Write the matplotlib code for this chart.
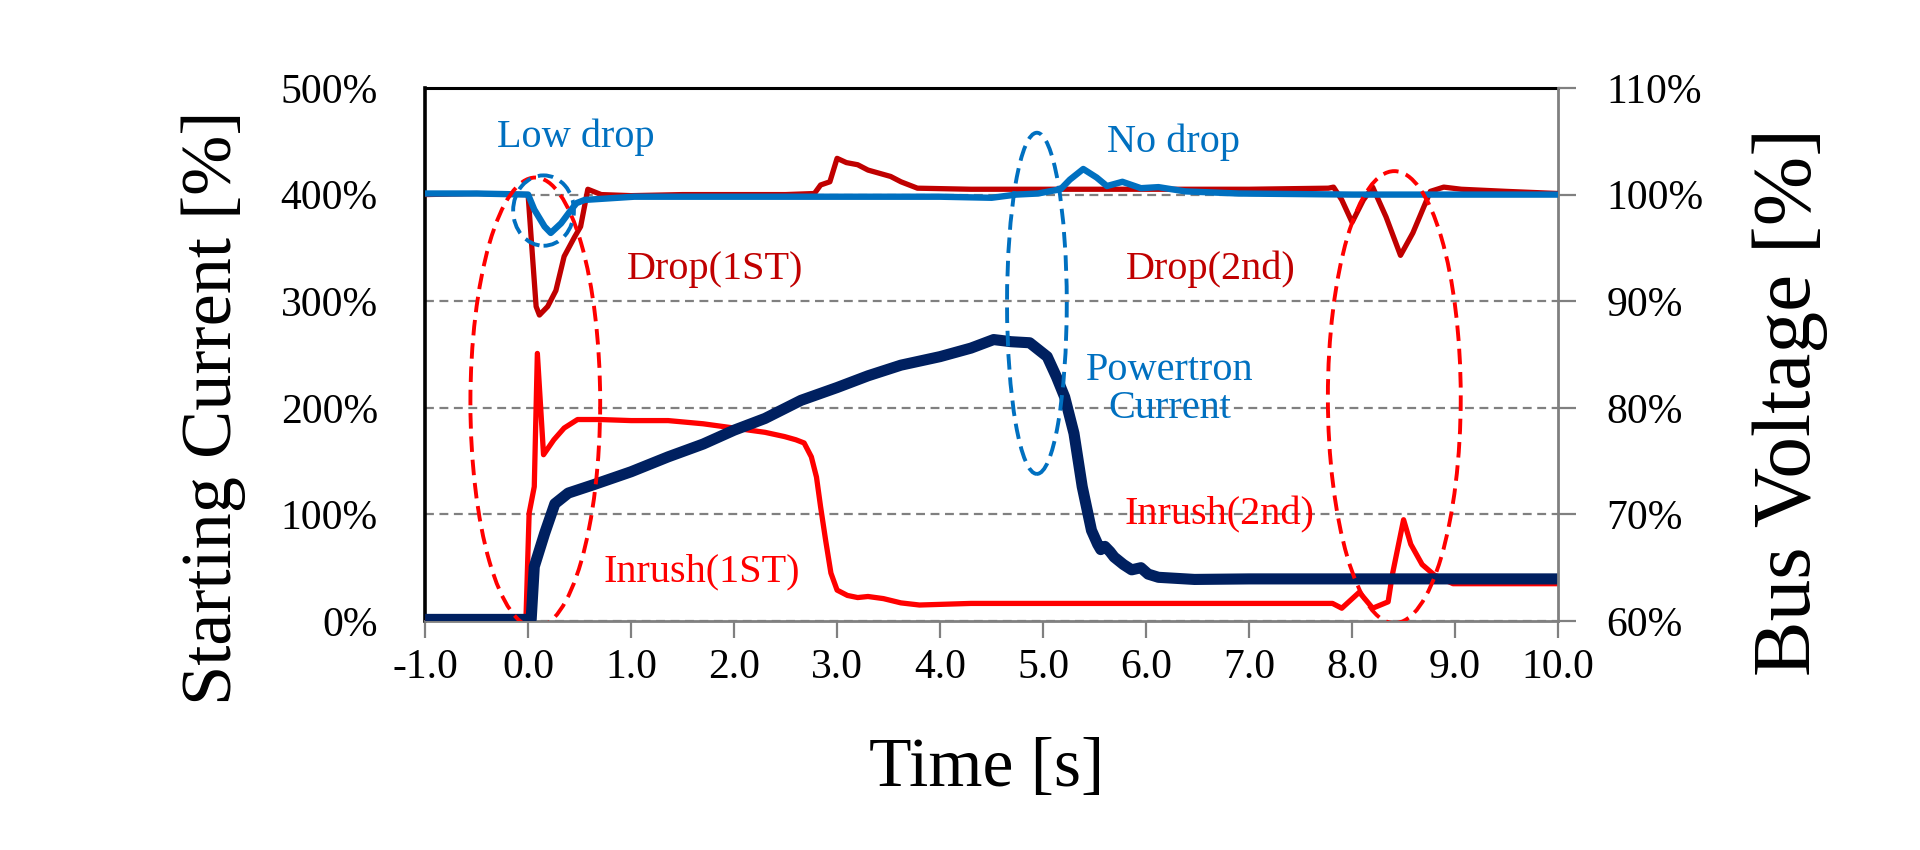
"""
Motor starting comparison: DOL vs Powertron.
Starting current (left axis) and bus voltage (right axis) over time.
"""

import matplotlib
matplotlib.use('Agg')
import matplotlib.pyplot as plt
from matplotlib.patches import Ellipse

plt.rcParams['font.family'] = ['Liberation Serif', 'DejaVu Serif']
plt.rcParams['axes.unicode_minus'] = False

# --- data ---
# DOL starting current [%] (bright red)
dol_current_t = [-1.0, -0.02, 0.01, 0.06, 0.09, 0.15, 0.25, 0.35, 0.48, 0.7, 1.0, 1.36, 1.7,
                 2.0, 2.3, 2.49, 2.6, 2.68, 2.75, 2.8, 2.84, 2.89, 2.94, 3.0, 3.1, 3.2, 3.3,
                 3.45, 3.62, 3.8, 4.3, 5.0, 6.0, 7.0, 7.81, 7.9, 8.07, 8.2, 8.35, 8.39, 8.5,
                 8.57, 8.68, 8.8, 8.98, 9.5, 10.0]
dol_current = [0, 4, 101, 126, 251, 156, 170, 181, 189, 189, 188, 188, 185,
               181, 177, 173, 170, 167, 154, 135, 107, 75, 45, 29, 24, 22, 23,
               21, 17, 15, 16.5, 16.5, 16.5, 16.5, 16.5, 12, 27, 12, 18, 43, 95,
               72, 53, 43, 35, 35, 35]

# Powertron starting current [%] (navy)
pt_current_t = [-1.0, 0.03, 0.06, 0.16, 0.26, 0.39, 0.64, 1.0, 1.36, 1.7, 2.0, 2.3, 2.65,
                3.0, 3.3, 3.62, 4.0, 4.3, 4.52, 4.69, 4.87, 5.04, 5.13, 5.21, 5.3, 5.38,
                5.47, 5.53, 5.56, 5.6, 5.65, 5.69, 5.78, 5.86, 5.95, 6.02, 6.12, 6.47,
                7.0, 8.0, 9.0, 10.0]
pt_current = [1.5, 1.5, 51, 82, 110, 120, 128, 140, 154, 166, 179, 190, 207,
              219, 230, 240, 248, 256, 264, 262, 261, 248, 229, 210, 176, 126,
              85, 72, 67, 70, 65, 60, 53, 48, 50, 44, 41, 39,
              39.5, 39.5, 39.5, 39.5]

# DOL bus voltage [%] (dark red)
dol_voltage_t = [-1.0, -0.5, 0.0, 0.045, 0.078, 0.11, 0.19, 0.27, 0.35, 0.45, 0.51, 0.54,
                 0.58, 0.71, 1.0, 1.5, 2.0, 2.5, 2.78, 2.84, 2.93, 3.0, 3.09, 3.2, 3.3,
                 3.52, 3.62, 3.78, 4.3, 5.0, 6.0, 7.0, 7.77, 7.82, 7.9, 8.0, 8.11, 8.2,
                 8.33, 8.47, 8.59, 8.76, 8.89, 9.06, 9.5, 10.0]
dol_voltage = [100, 100.1, 100, 93.9, 89.5, 88.7, 89.5, 91, 94.2, 96, 97, 98.5,
               100.5, 100, 99.9, 100, 100, 100, 100.1, 100.9, 101.2, 103.4, 103.0, 102.8, 102.3,
               101.7, 101.2, 100.6, 100.5, 100.5, 100.5, 100.5, 100.6, 100.7, 99.5, 97.4, 99.5, 100.7,
               97.9, 94.3, 96.4, 100.3, 100.7, 100.5, 100.3, 100.1]

# Powertron bus voltage [%] (light blue)
pt_voltage_t = [-1.0, -0.5, 0.0, 0.06, 0.16, 0.22, 0.32, 0.42, 0.47, 0.55, 1.03, 2.0, 3.0,
                3.44, 4.0, 4.5, 4.74, 4.95, 5.17, 5.26, 5.39, 5.52, 5.62, 5.77, 5.95, 6.12,
                6.38, 6.9, 8.0, 9.0, 10.0]
pt_voltage = [100.1, 100.1, 100, 98.6, 97.0, 96.4, 97.3, 98.6, 99.2, 99.5, 99.8, 99.8, 99.8,
              99.8, 99.8, 99.7, 100, 100.1, 100.5, 101.4, 102.4, 101.6, 100.8, 101.2, 100.6, 100.7,
              100.3, 100.1, 100, 100, 100]

# dashed highlight ellipses: (centre t, centre %, width s, height %, colour)
highlights = [
    (0.07, 205, 1.26, 422, '#FF0000'),
    (0.15, 385, 0.59, 66, '#0070C0'),
    (4.94, 298, 0.58, 320, '#0070C0'),
    (8.41, 210, 1.29, 424, '#FF0000'),
]

# annotations: (text, t, %, colour)
labels = [
    ('Low drop', 0.46, 454, '#0070C0'),
    ('No drop', 6.27, 449, '#0070C0'),
    ('Drop(1ST)', 1.82, 330, '#C00000'),
    ('Drop(2nd)', 6.63, 330, '#C00000'),
    ('Powertron\nCurrent', 6.23, 217, '#0070C0'),
    ('Inrush(1ST)', 1.69, 46, '#FF0000'),
    ('Inrush(2nd)', 6.71, 100, '#FF0000'),
]

x_ticks = [-1.0, 0.0, 1.0, 2.0, 3.0, 4.0, 5.0, 6.0, 7.0, 8.0, 9.0, 10.0]
current_ticks = [0, 100, 200, 300, 400, 500]
voltage_ticks = [60, 70, 80, 90, 100, 110]

GRAY = '#808080'

fig = plt.figure(figsize=(19.2, 8.5), dpi=100)
ax = fig.add_axes([0.2214, 0.2694, 0.5901, 0.6271])
ax2 = ax.twinx()

# current traces
ax.plot(dol_current_t, dol_current, color='#FF0000', linewidth=3.8, zorder=3)
ax.plot(pt_current_t, pt_current, color='#002060', linewidth=8, zorder=4,
        solid_capstyle='butt')

# voltage traces
ax2.plot(dol_voltage_t, dol_voltage, color='#C00000', linewidth=3.8, zorder=3)
ax2.plot(pt_voltage_t, pt_voltage, color='#0070C0', linewidth=4.6, zorder=4)

# highlight ellipses
for cx, cy, w, h, col in highlights:
    e = Ellipse((cx, cy), w, h, fill=False, edgecolor=col, linewidth=2.8,
                linestyle=(0, (4, 2)), zorder=5)
    ax2.add_patch(e)
    e.set_transform(ax.transData)

for text, tx, ty, col in labels:
    ax2.text(tx, ty, text, color=col, fontsize=29, ha='center', va='center',
             linespacing=1.05, transform=ax.transData, zorder=6)

# axes ranges
ax.set_xlim(-1.0, 10.0)
ax.set_ylim(0, 500)
ax2.set_ylim(60, 110)

ax.set_xticks(x_ticks)
ax.set_xticklabels([f'{v:.1f}' for v in x_ticks])
ax.set_yticks(current_ticks)
ax.set_yticklabels([f'{v}%' for v in current_ticks])
ax2.set_yticks(voltage_ticks)
ax2.set_yticklabels([f'{v}%' for v in voltage_ticks])

ax.grid(axis='y', linestyle=(0, (4, 2.5)), color=GRAY, linewidth=1.6)
ax.set_axisbelow(True)

ax.tick_params(axis='x', direction='out', length=12, width=1.6, color=GRAY,
               labelsize=30, pad=8)
ax.tick_params(axis='y', length=0, labelsize=30, pad=34)
ax2.tick_params(axis='y', direction='out', length=13, width=1.6, color=GRAY,
                labelsize=30, pad=22)

# spines
ax.spines['left'].set_color('black')
ax.spines['left'].set_linewidth(2.6)
ax.spines['top'].set_color('black')
ax.spines['top'].set_linewidth(2.2)
ax.spines['bottom'].set_color(GRAY)
ax.spines['bottom'].set_linewidth(2)
ax.spines['right'].set_visible(False)
ax2.spines['left'].set_visible(False)
ax2.spines['top'].set_visible(False)
ax2.spines['bottom'].set_visible(False)
ax2.spines['right'].set_color(GRAY)
ax2.spines['right'].set_linewidth(2)

# axis titles
fig.text(214 / 1920, 1 - 408 / 850, 'Starting Current [%]', fontsize=52,
         rotation=90, ha='center', va='center')
fig.text(1790 / 1920, 1 - 402 / 850, 'Bus Voltage [%]', fontsize=60,
         rotation=90, ha='center', va='center')
fig.text(987 / 1920, 1 - 769 / 850, 'Time [s]', fontsize=50,
         ha='center', va='center')

fig.savefig('out.png', dpi=100)
plt.close(fig)
